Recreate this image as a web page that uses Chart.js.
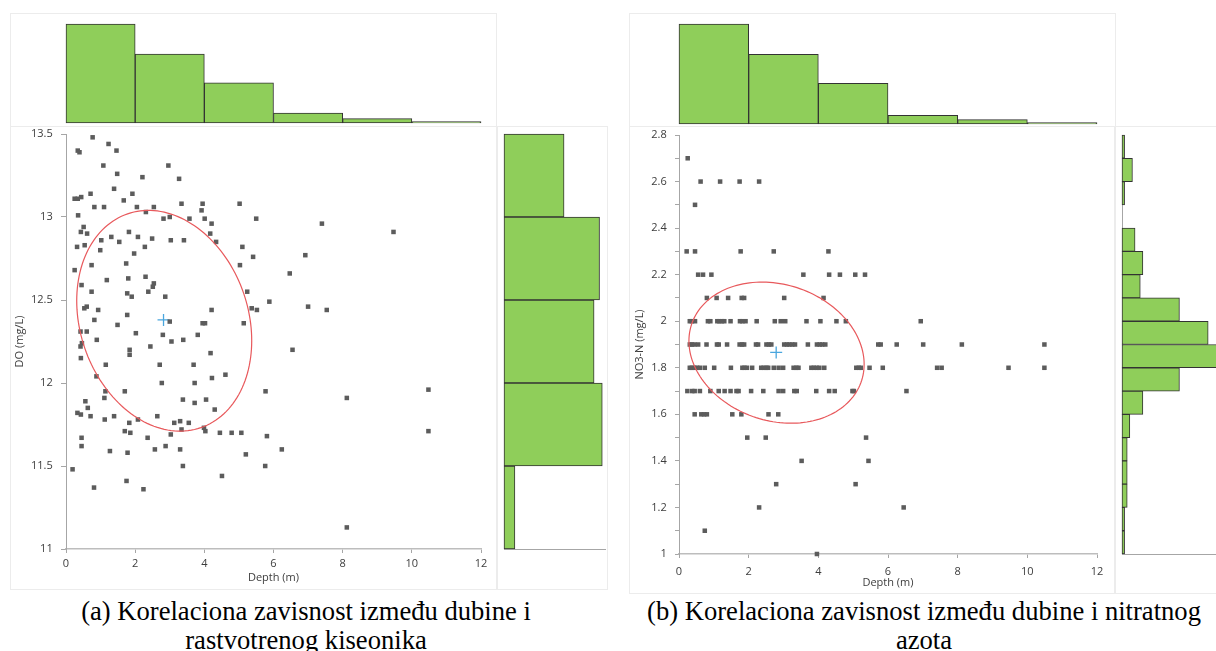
<!DOCTYPE html>
<html>
<head>
<meta charset="utf-8">
<script src="https://cdn.jsdelivr.net/npm/chart.js@4.4.0/dist/chart.umd.min.js"></script>
<style>
  html, body { margin: 0; padding: 0; background: #fff; }
  body { width: 1216px; height: 651px; position: relative; overflow: hidden; }
  canvas, .frame { position: absolute; }
  .frame { border: 1px solid #ececec; box-sizing: border-box; }
  .cap {
    position: absolute; text-align: center; white-space: nowrap; color: #000;
    font-family: 'Liberation Serif', 'Times New Roman', serif;
    font-size: 26.6px; line-height: 28.5px;
  }
</style>
</head>
<body>
<div class="frame" style="left:10px;top:13px;width:487px;height:114px"></div>
<div class="frame" style="left:10px;top:126px;width:487px;height:464px"></div>
<div class="frame" style="left:497px;top:126px;width:111px;height:464px"></div>
<div class="frame" style="left:629px;top:13px;width:487px;height:114px"></div>
<div class="frame" style="left:629px;top:126px;width:486px;height:468px"></div>
<div class="frame" style="left:1115px;top:126px;width:110px;height:468px"></div>

<canvas id="topA" width="487" height="114" style="left:10px;top:13px"></canvas>
<canvas id="scatA" width="487" height="464" style="left:10px;top:126px"></canvas>
<canvas id="sideA" width="111" height="464" style="left:497px;top:126px"></canvas>
<canvas id="topB" width="487" height="114" style="left:629px;top:13px"></canvas>
<canvas id="scatB" width="486" height="468" style="left:629px;top:126px"></canvas>
<canvas id="sideB" width="101" height="468" style="left:1115px;top:126px"></canvas>

<div class="cap" style="left:0;top:597px;width:612px">(a) Korelaciona zavisnost između dubine i<br>rastvotrenog kiseonika</div>
<div class="cap" style="left:600px;top:597px;width:648px">(b) Korelaciona zavisnost između dubine i nitratnog<br>azota</div>

<script>
// histogram bins
const depthBins = ['0-2', '2-4', '4-6', '6-8', '8-10', '10-12'];
const depthCountsA = [69, 48, 28, 7, 3, 1];
const depthCountsB = [69, 48, 28, 6, 3, 1];
const doBins = ['13-13.5', '12.5-13', '12-12.5', '11.5-12', '11-11.5'];
const doCounts = [22, 35, 33, 36, 4];
const no3Bins = ['2.7', '2.6', '2.5', '2.4', '2.3', '2.2', '2.1', '2.0', '1.9',
                 '1.8', '1.7', '1.6', '1.5', '1.4', '1.3', '1.2', '1.1', '1.0'];
const no3Counts = [1, 4, 1, 0, 5, 8, 7, 22, 33, 39, 22, 8, 3, 2, 2, 2, 1, 1];

// (a) depth vs dissolved oxygen
const depthA = [0.77,1.23,0.34,0.39,1.46,1.08,2.96,1.48,2.21,3.27,1.39,0.25,0.34,0.44,0.71,1.67,1.92,0.82,1.10,2.05,
  2.54,3.34,3.95,5.02,0.35,2.31,2.82,3.00,3.57,3.92,4.01,4.21,5.50,0.51,0.43,0.61,1.82,4.17,1.02,1.31,
  1.54,2.08,2.49,3.03,3.41,4.34,0.32,0.54,0.99,2.28,5.10,1.97,5.41,0.74,1.74,5.03,0.25,6.47,2.30,1.80,
  1.18,2.54,2.51,0.45,2.38,0.74,1.77,1.90,2.87,5.24,5.88,0.60,0.53,0.93,5.37,5.52,4.21,1.77,0.82,3.00,
  1.49,3.95,4.02,5.14,0.42,0.60,2.02,2.80,3.81,0.46,0.42,0.89,3.05,3.39,2.44,1.84,1.84,4.18,6.55,0.43,
  1.15,2.71,3.69,0.88,4.22,4.61,2.77,3.72,1.14,1.70,5.77,1.11,3.38,4.05,0.56,3.72,0.63,0.33,0.43,4.30,
  0.71,1.12,1.39,2.64,2.08,1.83,3.13,3.30,3.55,1.70,1.86,3.03,3.34,3.99,4.03,4.45,4.79,5.07,5.81,0.45,
  2.36,0.45,2.88,1.27,1.78,2.57,3.30,5.20,6.24,0.19,3.38,5.76,4.51,1.75,0.81,2.24,
  7.40,9.47,6.92,7.00,7.54,8.12,10.48,10.48,8.12];
const doA = [13.48,13.44,13.40,13.39,13.40,13.31,13.31,13.26,13.24,13.23,13.17,13.11,13.11,13.12,13.14,13.10,13.14,13.06,13.06,13.06,
  13.06,13.08,13.08,13.08,13.01,13.03,12.99,13.00,12.99,13.04,12.99,12.96,12.99,12.94,12.91,12.90,12.91,12.90,12.86,12.88,
  12.85,12.88,12.87,12.86,12.86,12.85,12.82,12.83,12.80,12.82,12.82,12.78,12.76,12.71,12.72,12.71,12.68,12.66,12.64,12.63,
  12.62,12.60,12.58,12.59,12.55,12.55,12.54,12.52,12.52,12.55,12.49,12.46,12.45,12.44,12.45,12.44,12.44,12.41,12.38,12.37,
  12.35,12.36,12.36,12.36,12.31,12.31,12.30,12.29,12.29,12.24,12.22,12.26,12.25,12.26,12.22,12.20,12.17,12.18,12.20,12.15,
  12.11,12.11,12.11,12.04,12.03,12.05,12.00,12.00,11.95,11.95,11.95,11.91,11.90,11.90,11.89,11.88,11.85,11.82,11.81,11.84,
  11.80,11.78,11.80,11.80,11.78,11.76,11.76,11.77,11.76,11.71,11.70,11.69,11.72,11.73,11.71,11.70,11.70,11.70,11.68,11.67,
  11.67,11.62,11.62,11.59,11.58,11.60,11.60,11.57,11.60,11.48,11.50,11.50,11.44,11.41,11.37,11.36,
  12.96,12.91,12.77,12.46,12.44,11.91,11.96,11.71,11.13];
const meanA = [2.82, 12.38];
const ellipseCenterA = [2.84, 12.375];
const ellipseAxesA = [2.53, -0.12, 0.654];   // x half-width, y tilt, y half-span

// (b) depth vs nitrate nitrogen, depths grouped by reported NO3-N level
const no3Levels = [2.7, 2.6, 2.5, 2.3, 2.2, 2.1, 2.0, 1.9, 1.8, 1.7, 1.6, 1.5, 1.4, 1.3, 1.2, 1.1, 1.0];
const depthByLevel = [
  [0.25],
  [0.62, 1.18, 1.74, 2.30],
  [0.46],
  [0.22, 0.46, 1.77, 2.72, 4.29],
  [0.55, 0.69, 0.93, 3.57, 4.31, 4.62, 5.06, 5.34],
  [0.80, 1.08, 1.41, 1.80, 1.87, 3.02, 4.15],
  [0.31, 0.37, 0.46, 0.83, 0.90, 1.10, 1.16, 1.23, 1.30, 1.48, 1.75, 1.82, 1.91, 2.23, 2.75, 2.92, 3.05, 3.66, 4.06, 4.52, 4.79, 6.94],
  [0.31, 0.37, 0.44, 0.55, 0.79, 1.09, 1.14, 1.38, 1.74, 1.81, 1.87, 2.21, 2.27, 2.51, 2.58, 2.65, 3.02, 3.10, 3.17, 3.25,
   3.33, 3.70, 3.96, 4.04, 4.11, 4.20, 5.72, 5.79, 6.25, 7.01, 8.12, 10.49],
  [0.31, 0.37, 0.44, 0.52, 0.60, 0.74, 1.01, 1.49, 1.82, 1.88, 1.95, 2.10, 2.36, 2.43, 2.51, 2.56, 2.72, 2.86, 2.99, 3.29,
   3.37, 3.43, 3.80, 3.87, 3.95, 4.03, 4.17, 5.09, 5.16, 5.22, 5.47, 5.85, 7.41, 7.54, 9.46, 10.49],
  [0.24, 0.38, 0.45, 0.60, 0.90, 1.14, 1.31, 1.48, 1.65, 1.71, 2.07, 2.42, 2.86, 2.99, 3.31, 3.38, 3.94, 4.31, 4.47, 4.98, 5.02, 6.53],
  [0.45, 0.64, 0.72, 0.80, 1.53, 1.79, 2.57, 2.85],
  [1.96, 2.49, 5.37],
  [3.52, 5.44],
  [2.79, 5.07],
  [2.30, 6.45],
  [0.74],
  [3.96]
];
const meanB = [2.79, 1.866];
const ellipseCenterB = [2.8, 1.865];
const ellipseAxesB = [2.515, -0.05, 0.299];

const xTicks = { min: 0, max: 12, step: 2 };

Chart.defaults.font.family = "'Open Sans', sans-serif";
Chart.defaults.font.size = 11;
Chart.defaults.color = '#3d3d3d';
Chart.defaults.animation = false;

const barGreen = '#8fce5a';
const barEdge = '#333333';
const axisGrey = '#a6a6a6';

// confidence ellipse, mapped through the chart scales
const ellipsePlugin = {
  id: 'ellipse',
  afterDatasetsDraw(chart, args, opts) {
    const { ctx, scales: { x, y } } = chart;
    const c = opts.center, a = opts.axes;
    ctx.save();
    ctx.beginPath();
    for (let i = 0; i <= 160; i++) {
      const t = i / 160 * Math.PI * 2;
      const px = x.getPixelForValue(c[0] + a[0] * Math.cos(t));
      const py = y.getPixelForValue(c[1] + a[1] * Math.cos(t) + a[2] * Math.sin(t));
      if (i === 0) ctx.moveTo(px, py); else ctx.lineTo(px, py);
    }
    ctx.closePath();
    ctx.strokeStyle = '#e8595c';
    ctx.lineWidth = 1.2;
    ctx.stroke();
    ctx.restore();
  }
};

const quiet = { legend: { display: false }, tooltip: { enabled: false } };

function topHistogram(id, counts, pad) {
  new Chart(document.getElementById(id), {
    type: 'bar',
    data: {
      labels: depthBins,
      datasets: [{
        data: counts, backgroundColor: barGreen, borderColor: barEdge, borderWidth: 1,
        borderSkipped: false, barPercentage: 1, categoryPercentage: 1, clip: false
      }]
    },
    options: {
      responsive: false,
      layout: { padding: pad },
      plugins: quiet,
      scales: {
        x: { display: false },
        y: { display: false, min: 0, max: Math.max(...counts) }
      }
    }
  });
}

function sideHistogram(id, labels, counts, max, pad) {
  new Chart(document.getElementById(id), {
    type: 'bar',
    data: {
      labels: labels,
      datasets: [{
        data: counts, backgroundColor: barGreen, borderColor: barEdge, borderWidth: 1,
        borderSkipped: false, barPercentage: 1, categoryPercentage: 1,
        clip: { left: false, top: false, right: 0, bottom: false }
      }]
    },
    options: {
      indexAxis: 'y',
      responsive: false,
      layout: { padding: pad },
      plugins: quiet,
      scales: {
        x: {
          min: 0, max: max,
          ticks: { display: false },
          grid: { display: false, drawTicks: false },
          border: { display: true, color: axisGrey },
          afterFit: s => { s.height = 0; s.paddingLeft = 0; s.paddingRight = 0; }
        },
        y: {
          ticks: { display: false },
          grid: { display: false, drawTicks: false },
          border: { display: true, color: axisGrey },
          afterFit: s => { s.width = 0; s.paddingTop = 0; s.paddingBottom = 0; }
        }
      }
    }
  });
}

function scatterPanel(id, points, mean, center, axes, cfg) {
  new Chart(document.getElementById(id), {
    type: 'scatter',
    data: {
      datasets: [
        {
          data: points, pointStyle: 'rect', radius: 3.2, borderWidth: 0,
          backgroundColor: '#5c5c5c', clip: false
        },
        {
          data: [{ x: mean[0], y: mean[1] }], pointStyle: 'cross', radius: 6,
          borderColor: '#4aa6de', borderWidth: 1.3, backgroundColor: 'transparent'
        }
      ]
    },
    options: {
      responsive: false,
      layout: { padding: cfg.pad },
      plugins: Object.assign({ ellipse: { center: center, axes: axes } }, quiet),
      scales: {
        x: {
          type: 'linear', min: xTicks.min, max: xTicks.max,
          ticks: { stepSize: xTicks.step, padding: cfg.xTickPad, color: '#3d3d3d' },
          grid: { drawOnChartArea: false, tickLength: 4, color: axisGrey },
          border: { display: true, color: '#bdbdbd', width: 1.5 },
          title: { display: true, text: 'Depth (m)', color: '#3d3d3d', padding: { top: 0, bottom: cfg.xTitlePad } },
          afterFit: s => { s.height = cfg.xHeight; s.paddingLeft = 0; s.paddingRight = 0; }
        },
        y: {
          type: 'linear', min: cfg.yMin, max: cfg.yMax,
          ticks: { stepSize: cfg.yStep, padding: cfg.yTickPad, color: '#3d3d3d', callback: cfg.yLabel },
          grid: { drawOnChartArea: false, tickLength: cfg.yTickLen, color: axisGrey },
          border: { display: true, color: axisGrey, width: 1 },
          title: { display: true, text: cfg.yTitle, color: '#3d3d3d', padding: { top: cfg.yTitlePad, bottom: 0 } },
          afterFit: s => { s.width = cfg.yWidth; s.paddingTop = 0; s.paddingBottom = 0; }
        }
      }
    },
    plugins: [ellipsePlugin]
  });
}

const pointsA = depthA.map((d, i) => ({ x: d, y: doA[i] }));
const pointsB = [];
no3Levels.forEach((lvl, i) => depthByLevel[i].forEach(d => pointsB.push({ x: d, y: lvl })));

topHistogram('topA', depthCountsA, { left: 56, right: 16, top: 11, bottom: 4 });
topHistogram('topB', depthCountsB, { left: 50, right: 19, top: 11, bottom: 3 });

scatterPanel('scatA', pointsA, meanA, ellipseCenterA, ellipseAxesA, {
  pad: { left: 0, right: 16, top: 8, bottom: 0 },
  yMin: 11, yMax: 13.5, yStep: 0.5, yTitle: 'DO (mg/L)',
  yLabel: v => String(+v.toFixed(1)),
  yWidth: 56, xHeight: 41, xTickPad: 4.4, yTickPad: 8.3, yTickLen: 5,
  xTitlePad: 5.4, yTitlePad: 3.4
});

scatterPanel('scatB', pointsB, meanB, ellipseCenterB, ellipseAxesB, {
  pad: { left: 0, right: 18, top: 9, bottom: 0 },
  yMin: 1, yMax: 2.8, yStep: 0.1, yTitle: 'NO3-N (mg/L)',
  yLabel: v => (Math.round(v * 10) % 2 === 0 ? String(+v.toFixed(1)) : ''),
  yWidth: 50, xHeight: 40, xTickPad: 7.4, yTickPad: 8.3, yTickLen: 4,
  xTitlePad: 4.4, yTitlePad: 4.4
});

sideHistogram('sideA', doBins, doCounts, 37, { left: 7, right: 3, top: 8, bottom: 41 });
sideHistogram('sideB', no3Bins, no3Counts, 36, { left: 7, right: 0, top: 9, bottom: 40 });
</script>
</body>
</html>
